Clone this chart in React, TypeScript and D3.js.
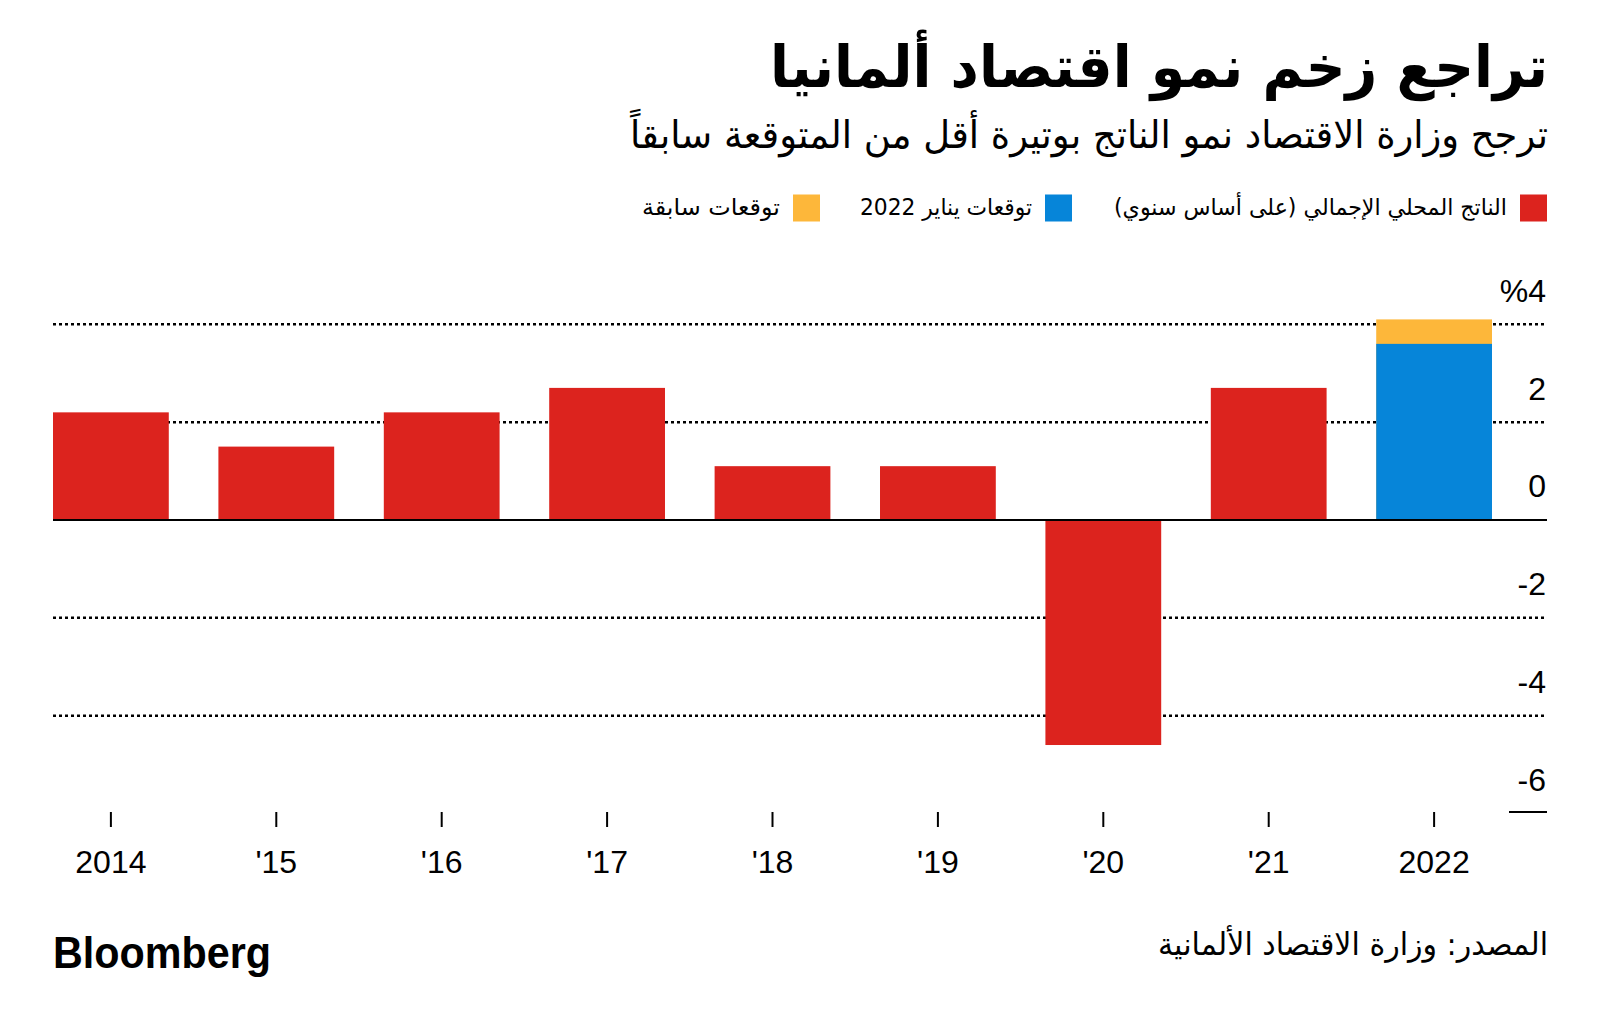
import React from "react";
import * as d3 from "d3";

const years = ["2014", "'15", "'16", "'17", "'18", "'19", "'20", "'21", "2022"];
const gdp: (number | null)[] = [2.2, 1.5, 2.2, 2.7, 1.1, 1.1, -4.6, 2.7, null];
const janForecast: (number | null)[] = [null, null, null, null, null, null, null, null, 3.6];
const prevForecast: (number | null)[] = [null, null, null, null, null, null, null, null, 4.1];
const yTicks = [-6, -4, -2, 0, 2, 4];
const yTickLabels = ["-6", "-4", "-2", "0", "2", "%4"];

const title = "تراجع زخم نمو اقتصاد ألمانيا";
const subtitle = "ترجح وزارة الاقتصاد نمو الناتج بوتيرة أقل من المتوقعة سابقاً";
const legendLabels = ["الناتج المحلي الإجمالي (على أساس سنوي)", "توقعات يناير 2022", "توقعات سابقة"];
const source = "المصدر: وزارة الاقتصاد الألمانية";

const RED = "#dc231e";
const BLUE = "#0685d9";
const ORANGE = "#fdb73a";

const W = 1600;
const H = 1033;
const arabic = "'DejaVu Sans', sans-serif";
const latin = "'Liberation Sans', Arial, sans-serif";

export default function App() {
  const x = d3.scaleBand<string>().domain(years).range([53, 1492]).paddingInner(0.3).paddingOuter(0);
  const y = d3.scaleLinear().domain([-6, 4]).range([813.5, 324.3]);
  const gridLeft = 53;
  const gridRight = 1547;

  const legendItems = [
    { color: RED, label: legendLabels[0], sq: 1520, tw: 393 },
    { color: BLUE, label: legendLabels[1], sq: 1045, tw: 172 },
    { color: ORANGE, label: legendLabels[2], sq: 793, tw: 138 },
  ];

  return (
    <svg width={W} height={H} viewBox={`0 0 ${W} ${H}`} style={{ display: "block", position: "absolute", left: 0, top: 0, background: "#fff" }}>
      <rect x={0} y={0} width={W} height={H} fill="#fff" />
      {/* Title */}
      <text x={1548} y={87} direction="rtl" textAnchor="start" fontFamily={arabic} fontWeight="bold" fontSize={58} fill="#000" textLength={778} lengthAdjust="spacingAndGlyphs">
        {title}
      </text>
      <text x={1548} y={148} direction="rtl" textAnchor="start" fontFamily={arabic} fontSize={38} fill="#000" textLength={918} lengthAdjust="spacingAndGlyphs">
        {subtitle}
      </text>

      {/* Legend */}
      {legendItems.map((d, i) => (
        <g key={i}>
          <rect x={d.sq} y={194.5} width={27} height={27} fill={d.color} />
          <text x={d.sq - 13} y={215} direction="rtl" textAnchor="start" fontFamily={arabic} fontSize={23} fill="#000" textLength={d.tw} lengthAdjust="spacingAndGlyphs">
            {d.label}
          </text>
        </g>
      ))}

      {/* Grid lines */}
      {yTicks.map((t) =>
        t === 0 || t === -6 ? null : (
          <line key={t} x1={gridLeft} x2={gridRight} y1={y(t)} y2={y(t)} stroke="#000" strokeWidth={2.5} strokeDasharray="3 3" />
        )
      )}

      {/* Bars */}
      {years.map((yr, i) => {
        const bx = x(yr)!;
        const bw = x.bandwidth();
        const out: JSX.Element[] = [];
        const g = gdp[i];
        if (g != null) {
          out.push(<rect key="g" x={bx} width={bw} y={Math.min(y(g), y(0))} height={Math.abs(y(g) - y(0))} fill={RED} />);
        }
        const p = prevForecast[i];
        const j = janForecast[i];
        if (p != null) {
          out.push(<rect key="p" x={bx} width={bw} y={y(p)} height={y(0) - y(p)} fill={ORANGE} />);
        }
        if (j != null) {
          out.push(<rect key="j" x={bx} width={bw} y={y(j)} height={y(0) - y(j)} fill={BLUE} />);
        }
        return <g key={yr}>{out}</g>;
      })}

      {/* Zero line */}
      <line x1={gridLeft} x2={gridRight} y1={y(0)} y2={y(0)} stroke="#000" strokeWidth={2} />
      {/* -6 short line */}
      <line x1={1509} x2={gridRight} y1={y(-6) - 1.5} y2={y(-6) - 1.5} stroke="#000" strokeWidth={2} />

      {/* Y labels */}
      {yTicks.map((t, i) => (
        <text key={t} x={1546} y={y(t) - 22.5} textAnchor="end" fontFamily={latin} fontSize={32} fill="#000">
          {yTickLabels[i]}
        </text>
      ))}

      {/* X ticks and labels */}
      {years.map((yr) => {
        const cx = x(yr)! + x.bandwidth() / 2;
        return (
          <g key={yr}>
            <line x1={cx} x2={cx} y1={812} y2={827} stroke="#000" strokeWidth={2} />
            <text x={cx} y={873} textAnchor="middle" fontFamily={latin} fontSize={32} fill="#000">
              {yr}
            </text>
          </g>
        );
      })}

      {/* Footer */}
      <text x={53} y={968} fontFamily={latin} fontWeight="bold" fontSize={45} fill="#000" textLength={218} lengthAdjust="spacingAndGlyphs">
        Bloomberg
      </text>
      <text x={1548} y={955} direction="rtl" textAnchor="start" fontFamily={arabic} fontSize={31} fill="#000" textLength={390} lengthAdjust="spacingAndGlyphs">
        {source}
      </text>
    </svg>
  );
}
